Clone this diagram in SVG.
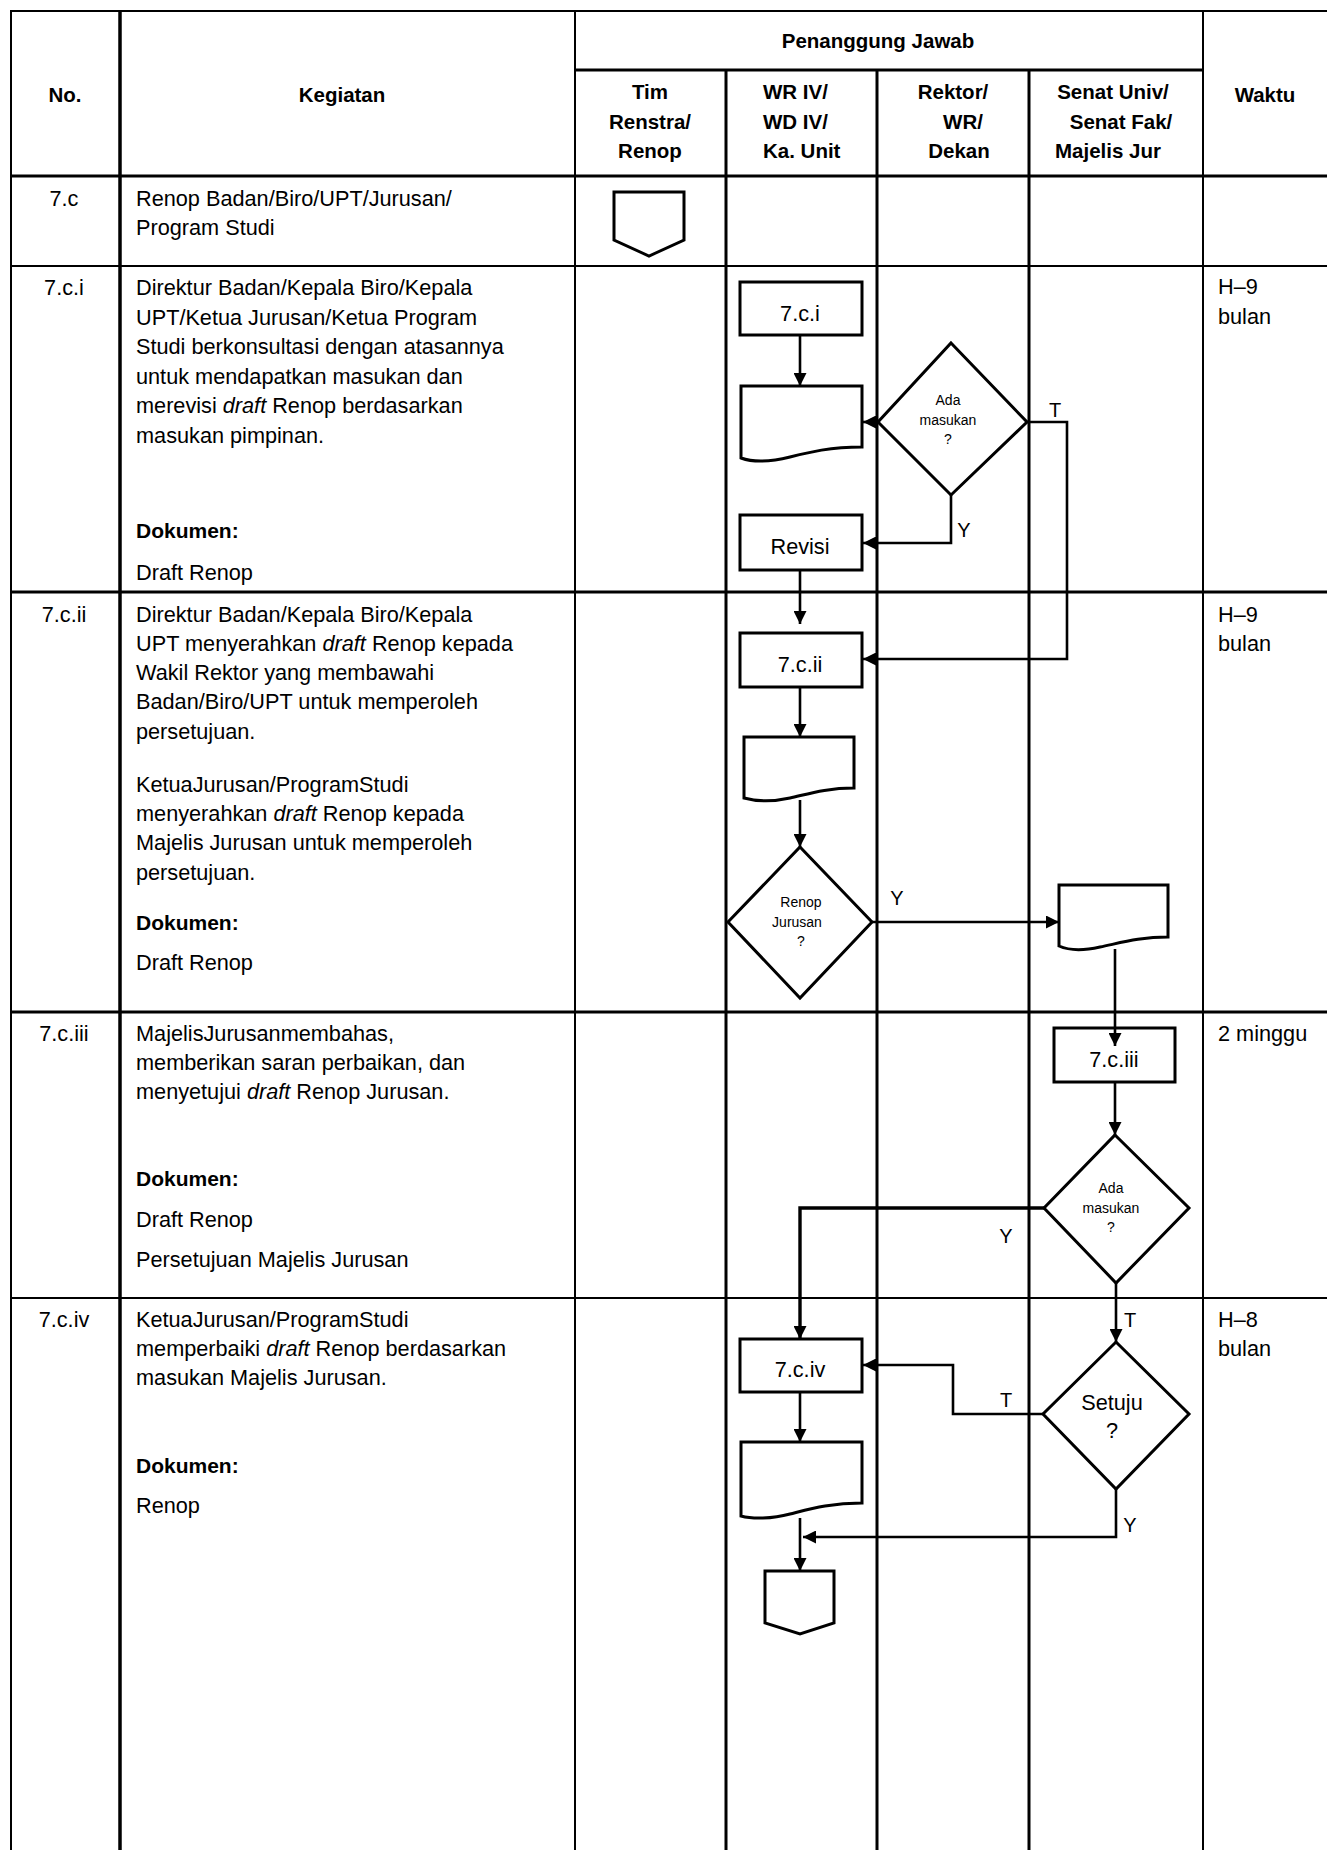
<svg xmlns="http://www.w3.org/2000/svg" width="1327" height="1850" viewBox="0 0 1327 1850">
<style>
.bg{fill:#fff}
.l2{stroke:#000;stroke-width:2;fill:none}
.l3{stroke:#000;stroke-width:3;fill:none}
.l35{stroke:#000;stroke-width:3.5;fill:none}
.sh{fill:#fff;stroke:#000;stroke-width:3;stroke-linejoin:miter}
.cn{fill:none;stroke:#000;stroke-width:2.6;marker-end:url(#ah)}
text{font-family:"Liberation Sans",Arial,sans-serif;fill:#000}
.t{font-size:21.7px}
.hb{font-size:20.5px;font-weight:bold}
.db{font-size:21px;font-weight:bold}
.sm{font-size:14px}
.lb{font-size:20px}
.c{text-anchor:middle}
.i{font-style:italic}
</style>
<defs>
<marker id="ah" viewBox="0 0 13 13" markerWidth="13" markerHeight="13" refX="13" refY="6.5" orient="auto" markerUnits="userSpaceOnUse">
<path d="M0,0 L13,6.5 L0,13 Z" fill="#000"/>
</marker>
</defs>
<rect class="bg" x="0" y="0" width="1327" height="1850"/>

<g id="table">
<line class="l2" x1="11" y1="11" x2="1327" y2="11"/>
<line class="l3" x1="575" y1="70" x2="1203" y2="70"/>
<line class="l3" x1="11" y1="176" x2="1327" y2="176"/>
<line class="l2" x1="11" y1="266" x2="1327" y2="266"/>
<line class="l3" x1="11" y1="592" x2="1327" y2="592"/>
<line class="l3" x1="11" y1="1012" x2="1327" y2="1012"/>
<line class="l2" x1="11" y1="1298" x2="1327" y2="1298"/>
<line class="l2" x1="11" y1="10" x2="11" y2="1850"/>
<line class="l35" x1="120" y1="10" x2="120" y2="1850"/>
<line class="l2" x1="575" y1="10" x2="575" y2="1850"/>
<line class="l3" x1="726" y1="70" x2="726" y2="1850"/>
<line class="l3" x1="877" y1="70" x2="877" y2="1850"/>
<line class="l3" x1="1029" y1="70" x2="1029" y2="1850"/>
<line class="l2" x1="1203" y1="10" x2="1203" y2="1850"/>
</g>

<g id="header">
<text class="hb c" x="65" y="102">No.</text>
<text class="hb c" x="342" y="102">Kegiatan</text>
<text class="hb c" x="878" y="48">Penanggung Jawab</text>
<text class="hb c" x="650" y="99">Tim</text>
<text class="hb c" x="650" y="128.5">Renstra/</text>
<text class="hb c" x="650" y="157.5">Renop</text>
<text class="hb" x="763" y="99">WR IV/</text>
<text class="hb" x="763" y="128.5">WD IV/</text>
<text class="hb" x="763" y="157.5">Ka. Unit</text>
<text class="hb c" x="953" y="99">Rektor/</text>
<text class="hb c" x="963" y="128.5">WR/</text>
<text class="hb c" x="959" y="157.5">Dekan</text>
<text class="hb c" x="1113" y="99">Senat Univ/</text>
<text class="hb c" x="1121" y="128.5">Senat Fak/</text>
<text class="hb c" x="1108" y="157.5">Majelis Jur</text>
<text class="hb c" x="1265" y="102">Waktu</text>
</g>

<g id="row-7c">
<text class="t c" x="64" y="206">7.c</text>
<text class="t" x="136" y="206">Renop Badan/Biro/UPT/Jurusan/</text>
<text class="t" x="136" y="235">Program Studi</text>
</g>

<g id="row-7ci">
<text class="t c" x="64" y="295">7.c.i</text>
<text class="t" x="136" y="295">Direktur Badan/Kepala Biro/Kepala</text>
<text class="t" x="136" y="325">UPT/Ketua Jurusan/Ketua Program</text>
<text class="t" x="136" y="354">Studi berkonsultasi dengan atasannya</text>
<text class="t" x="136" y="383.5">untuk mendapatkan masukan dan</text>
<text class="t" x="136" y="413">merevisi <tspan class="i">draft</tspan> Renop berdasarkan</text>
<text class="t" x="136" y="442.5">masukan pimpinan.</text>
<text class="db" x="136" y="538">Dokumen:</text>
<text class="t" x="136" y="580">Draft Renop</text>
<text class="t" x="1218" y="294">H–9</text>
<text class="t" x="1218" y="324">bulan</text>
</g>

<g id="row-7cii">
<text class="t c" x="64" y="622">7.c.ii</text>
<text class="t" x="136" y="622">Direktur Badan/Kepala Biro/Kepala</text>
<text class="t" x="136" y="651">UPT menyerahkan <tspan class="i">draft</tspan> Renop kepada</text>
<text class="t" x="136" y="680">Wakil Rektor yang membawahi</text>
<text class="t" x="136" y="709">Badan/Biro/UPT untuk memperoleh</text>
<text class="t" x="136" y="738.5">persetujuan.</text>
<text class="t" x="136" y="792">KetuaJurusan/ProgramStudi</text>
<text class="t" x="136" y="821">menyerahkan <tspan class="i">draft</tspan> Renop kepada</text>
<text class="t" x="136" y="850">Majelis Jurusan untuk memperoleh</text>
<text class="t" x="136" y="879.5">persetujuan.</text>
<text class="db" x="136" y="930">Dokumen:</text>
<text class="t" x="136" y="970">Draft Renop</text>
<text class="t" x="1218" y="622">H–9</text>
<text class="t" x="1218" y="651">bulan</text>
</g>

<g id="row-7ciii">
<text class="t c" x="64" y="1040.5">7.c.iii</text>
<text class="t" x="136" y="1040.5">MajelisJurusanmembahas,</text>
<text class="t" x="136" y="1070">memberikan saran perbaikan, dan</text>
<text class="t" x="136" y="1099">menyetujui <tspan class="i">draft</tspan> Renop Jurusan.</text>
<text class="db" x="136" y="1186">Dokumen:</text>
<text class="t" x="136" y="1227">Draft Renop</text>
<text class="t" x="136" y="1267">Persetujuan Majelis Jurusan</text>
<text class="t" x="1218" y="1041">2 minggu</text>
</g>

<g id="row-7civ">
<text class="t c" x="64" y="1326.5">7.c.iv</text>
<text class="t" x="136" y="1326.5">KetuaJurusan/ProgramStudi</text>
<text class="t" x="136" y="1355.5">memperbaiki <tspan class="i">draft</tspan> Renop berdasarkan</text>
<text class="t" x="136" y="1384.5">masukan Majelis Jurusan.</text>
<text class="db" x="136" y="1472.5">Dokumen:</text>
<text class="t" x="136" y="1513">Renop</text>
<text class="t" x="1218" y="1327">H–8</text>
<text class="t" x="1218" y="1356">bulan</text>
</g>

<g id="start-7c">
<path class="sh" d="M614,192 H684 V240 L649,256 L614,240 Z"/>
</g>

<g id="box-7ci">
<rect class="sh" x="740" y="282" width="122" height="53"/>
<text class="t c" x="800" y="321">7.c.i</text>
</g>

<g id="doc-1">
<path class="sh" d="M741,386 H862 V447 C830,447 810,452 790,457 C770,462 752,462 741,458 Z"/>
</g>

<g id="dec-ada-masukan-1">
<path class="sh" d="M951,343 L1027,422 L951,495 L878,422 Z"/>
<text class="sm c" x="948" y="405">Ada</text>
<text class="sm c" x="948" y="425">masukan</text>
<text class="sm c" x="948" y="443.5">?</text>
</g>

<g id="box-revisi">
<rect class="sh" x="740" y="515" width="122" height="55"/>
<text class="t c" x="800" y="554">Revisi</text>
</g>

<g id="box-7cii">
<rect class="sh" x="740" y="633" width="122" height="54"/>
<text class="t c" x="800" y="672">7.c.ii</text>
</g>

<g id="doc-2">
<path class="sh" d="M744,737 H854 V788 C826,788 808,794 790,798 C772,802 755,801 744,798 Z"/>
</g>

<g id="dec-renop-jurusan">
<path class="sh" d="M800,847 L872,922 L800,998 L728,922 Z"/>
<text class="sm c" x="801" y="907">Renop</text>
<text class="sm c" x="797" y="927">Jurusan</text>
<text class="sm c" x="801" y="946">?</text>
</g>

<g id="doc-3">
<path class="sh" d="M1059,885 H1168 V937 C1140,937 1120,943 1100,947 C1082,951 1068,950 1059,946 Z"/>
</g>

<g id="box-7ciii">
<rect class="sh" x="1054" y="1028" width="121" height="54"/>
<text class="t c" x="1114" y="1067">7.c.iii</text>
</g>

<g id="dec-ada-masukan-2">
<path class="sh" d="M1115,1135 L1189,1208 L1116,1283 L1044,1208 Z"/>
<text class="sm c" x="1111" y="1193">Ada</text>
<text class="sm c" x="1111" y="1213">masukan</text>
<text class="sm c" x="1111" y="1232">?</text>
</g>

<g id="box-7civ">
<rect class="sh" x="740" y="1339" width="122" height="53"/>
<text class="t c" x="800" y="1377">7.c.iv</text>
</g>

<g id="dec-setuju">
<path class="sh" d="M1116,1342 L1189,1414 L1116,1489 L1043,1414 Z"/>
<text class="t c" x="1112" y="1410">Setuju</text>
<text class="t c" x="1112" y="1438">?</text>
</g>

<g id="doc-4">
<path class="sh" d="M741,1442 H862 V1503 C830,1503 810,1509 790,1514 C772,1519 752,1519 741,1516 Z"/>
</g>

<g id="end-offpage">
<path class="sh" d="M765,1571 H834 V1623 L800,1634 L765,1623 Z"/>
</g>

<g id="connectors">
<path class="cn" d="M800,336 V386"/>
<path class="cn" d="M878,422 H863"/>
<path class="cn" d="M951,495 V543 H863"/>
<path class="cn" d="M1027,422 H1067 V659 H863"/>
<path class="cn" d="M800,571 V624"/>
<path class="cn" d="M800,688 V737"/>
<path class="cn" d="M800,800 V847"/>
<path class="cn" d="M872,922 H1059"/>
<path class="cn" d="M1115,949 V1046"/>
<path class="cn" d="M1115,1083 V1135"/>
<path class="cn" style="stroke-width:3.4" d="M1044,1208 H800 V1339"/>
<path class="cn" d="M1116,1283 V1342"/>
<path class="cn" d="M1043,1414 H953 V1365 H863"/>
<path class="cn" d="M800,1393 V1442"/>
<path class="cn" d="M800,1518 V1571"/>
<path class="cn" d="M1116,1489 V1537 H803"/>
<text class="lb c" x="1055" y="417">T</text>
<text class="lb c" x="964" y="537">Y</text>
<text class="lb c" x="897" y="905">Y</text>
<text class="lb c" x="1006" y="1243">Y</text>
<text class="lb c" x="1130" y="1327">T</text>
<text class="lb c" x="1006" y="1407">T</text>
<text class="lb c" x="1130" y="1532">Y</text>
</g>
</svg>
